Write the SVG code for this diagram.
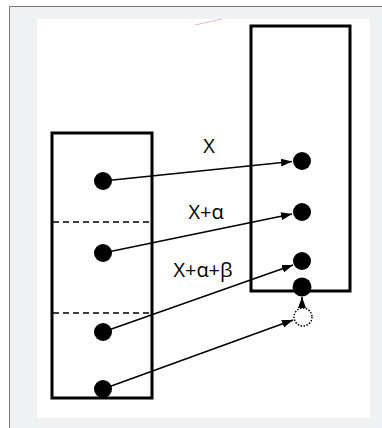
<svg xmlns="http://www.w3.org/2000/svg" width="382" height="428" viewBox="0 0 382 428">
<defs>
<style>
.box{fill:none;stroke:#000;stroke-width:3}
.dot{fill:#000}
.sep{stroke:#000;stroke-width:1.5;stroke-dasharray:6 4}
.conn{stroke:#000;stroke-width:1.5;fill:none;marker-end:url(#ah)}
.lbl{font-family:"Open Sans","Noto Sans",sans-serif;font-size:20px;fill:#000;text-anchor:middle}
</style>
<marker id="ah" viewBox="0 0 11 8" refX="11" refY="4" markerWidth="11" markerHeight="8" markerUnits="userSpaceOnUse" orient="auto">
<path d="M0,0 L11,4 L0,8 Z" fill="#000"/>
</marker>
</defs>
<rect x="9" y="6" width="373" height="422" fill="#f0f1f3"/>
<path d="M9.5,428 V6.5 H382" fill="none" stroke="#7a7a7a" stroke-width="1"/>
<rect x="37" y="19" width="333" height="399" fill="#fff"/>
<line x1="195" y1="25" x2="222" y2="19" stroke="#f2b8b8" stroke-width="1"/>
<g id="left-block">
<rect class="box" x="52" y="133" width="100" height="265"/>
<line class="sep" x1="53" y1="222" x2="151" y2="222"/>
<line class="sep" x1="53" y1="313" x2="151" y2="313"/>
</g>
<g id="right-block">
<rect class="box" x="251" y="26" width="99" height="265"/>
</g>
<g id="left-dot-1"><circle class="dot" cx="103" cy="181" r="9"/></g>
<g id="left-dot-2"><circle class="dot" cx="103" cy="253" r="9"/></g>
<g id="left-dot-3"><circle class="dot" cx="103" cy="332" r="9"/></g>
<g id="left-dot-4"><circle class="dot" cx="103" cy="389" r="9"/></g>
<g id="right-dot-1"><circle class="dot" cx="302" cy="161" r="9"/></g>
<g id="right-dot-2"><circle class="dot" cx="302" cy="212" r="9"/></g>
<g id="right-dot-3"><circle class="dot" cx="302" cy="261" r="9"/></g>
<g id="right-dot-4"><circle class="dot" cx="302" cy="287" r="9.5"/></g>
<g id="ghost-dot"><circle cx="303" cy="317" r="9" fill="#fff" stroke="#000" stroke-width="1.5" stroke-dasharray="1.5 1.5"/></g>
<g id="connectors">
<line class="conn" x1="103" y1="181" x2="292" y2="161.5"/>
<line class="conn" x1="103" y1="253" x2="292" y2="214"/>
<line class="conn" x1="103" y1="332" x2="293" y2="265"/>
<line class="conn" x1="103" y1="389" x2="293" y2="320"/>
<line class="conn" x1="302" y1="308" x2="302" y2="297"/>
</g>
<g id="labels">
<text class="lbl" x="209" y="153">X</text>
<text class="lbl" x="206" y="219">X+α</text>
<text class="lbl" x="203" y="277">X+α+β</text>
</g>
</svg>
